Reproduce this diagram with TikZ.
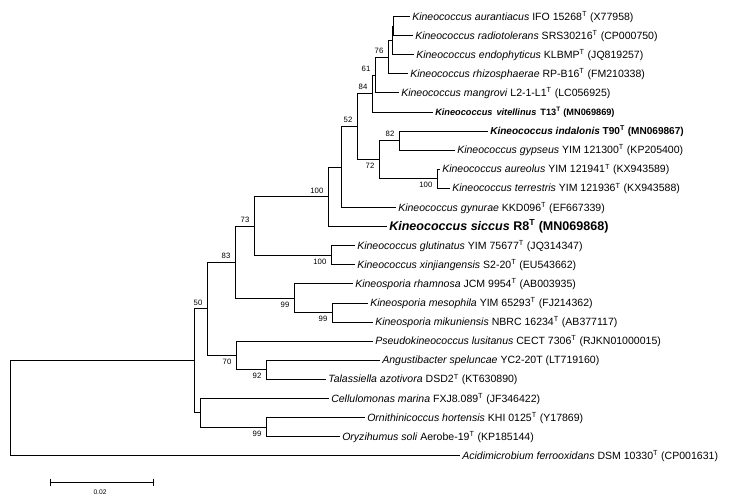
\documentclass[tikz,border=0pt]{standalone}
\usepackage{fontspec}
\setmainfont{Liberation Sans}
\newcommand{\typeT}{\textsuperscript{T}}

\begin{document}
\begin{tikzpicture}[x=0.75pt,y=-0.75pt,
 br/.style={line width=0.75pt},
 taxon/.style={anchor=west,inner sep=1.5pt,text height=7pt,text depth=1.7pt,font=\fontsize{7.9}{9}\selectfont},
 boot/.style={inner sep=2.5pt,font=\fontsize{5.8}{7}\selectfont},
 bootup/.style={boot,anchor=south east,xshift=-0.8pt},
 bootdn/.style={boot,anchor=north east,xshift=-0.8pt}]
 \useasboundingbox (0,0) rectangle (730,496);

 \node[taxon] (aur) at (410,16.5) {\textit{Kineococcus aurantiacus} IFO 15268\typeT{} (X77958)};
 \node[taxon] (rad) at (413,35.6) {\textit{Kineococcus radiotolerans} SRS30216\typeT{} (CP000750)};
 \node[taxon] (endo) at (414,54.7) {\textit{Kineococcus endophyticus} KLBMP\typeT{} (JQ819257)};
 \node[taxon] (rhizo) at (408,73.8) {\textit{Kineococcus rhizosphaerae} RP-B16\typeT{} (FM210338)};
 \node[taxon] (mang) at (399,92.9) {\textit{Kineococcus mangrovi} L2-1-L1\typeT{} (LC056925)};
 \node[taxon,font=\fontsize{6.9}{8}\selectfont\bfseries] (vit) at (433,112.0) {\textit{Kineococcus}\hspace{3pt}\textit{vitellinus}\hspace{3pt}T13\typeT{} (MN069869)};
 \node[taxon,font=\fontsize{7.55}{9}\selectfont\bfseries] (ind) at (488,131.1) {\textit{Kineococcus indalonis} T90\typeT{} (MN069867)};
 \node[taxon] (gyp) at (455,150.2) {\textit{Kineococcus gypseus} YIM 121300\typeT{} (KP205400)};
 \node[taxon] (aureo) at (440,169.3) {\textit{Kineococcus aureolus} YIM 121941\typeT{} (KX943589)};
 \node[taxon] (terr) at (450,188.4) {\textit{Kineococcus terrestris} YIM 121936\typeT{} (KX943588)};
 \node[taxon] (gyn) at (396,207.5) {\textit{Kineococcus gynurae} KKD096\typeT{} (EF667339)};
 \node[taxon,font=\fontsize{9.4}{11}\selectfont\bfseries,text height=8.3pt,text depth=2pt] (sic) at (387,226.6) {\textit{Kineococcus siccus} R8\typeT{} (MN069868)};
 \node[taxon] (glut) at (355,245.7) {\textit{Kineococcus glutinatus} YIM 75677\typeT{} (JQ314347)};
 \node[taxon] (xin) at (355,264.8) {\textit{Kineococcus xinjiangensis} S2-20\typeT{} (EU543662)};
 \node[taxon] (rham) at (353,283.9) {\textit{Kineosporia rhamnosa} JCM 9954\typeT{} (AB003935)};
 \node[taxon] (meso) at (368,303.0) {\textit{Kineosporia mesophila} YIM 65293\typeT{} (FJ214362)};
 \node[taxon] (miku) at (373,322.1) {\textit{Kineosporia mikuniensis} NBRC 16234\typeT{} (AB377117)};
 \node[taxon] (pseu) at (373,341.2) {\textit{Pseudokineococcus lusitanus} CECT 7306\typeT{} (RJKN01000015)};
 \node[taxon] (angu) at (380,360.3) {\textit{Angustibacter speluncae} YC2-20T (LT719160)};
 \node[taxon] (tala) at (326,379.4) {\textit{Talassiella azotivora} DSD2\typeT{} (KT630890)};
 \node[taxon] (cell) at (329,398.5) {\textit{Cellulomonas marina} FXJ8.089\typeT{} (JF346422)};
 \node[taxon] (orni) at (365,417.6) {\textit{Ornithinicoccus hortensis} KHI 0125\typeT{} (Y17869)};
 \node[taxon] (oryz) at (340,436.7) {\textit{Oryzihumus soli} Aerobe-19\typeT{} (KP185144)};
 \node[taxon] (acid) at (460,455.8) {\textit{Acidimicrobium ferrooxidans} DSM 10330\typeT{} (CP001631)};

 \coordinate (nar) at (393.5,26.05);
 \coordinate (nen) at (392,40.4);
 \coordinate (n76) at (388,57.1);
 \coordinate (n61) at (375,75);
 \coordinate (n84) at (372,93.5);
 \coordinate (n82) at (399,140.65);
 \coordinate (nte) at (437,178.85);
 \coordinate (n72) at (379,159.75);
 \coordinate (n52) at (357,126.6);
 \coordinate (ngy) at (341,167.05);
 \coordinate (nsi) at (328,196.8);
 \coordinate (ngl) at (331,255.25);
 \coordinate (n73) at (254,226);
 \coordinate (nme) at (332,312.55);
 \coordinate (nrh) at (294,298.2);
 \coordinate (n83) at (235,262.1);
 \coordinate (nta) at (266,369.85);
 \coordinate (n70) at (236,355.5);
 \coordinate (n50) at (207,308.8);
 \coordinate (nor) at (266,427.15);
 \coordinate (nce) at (200,412.8);
 \coordinate (nin) at (194,360.8);
 \coordinate (root) at (10,408.3);

 \draw[br] (nar) |- (aur.west);
 \draw[br] (nar) |- (rad.west);
 \draw[br] (nen) |- (nar);
 \draw[br] (nen) |- (endo.west);
 \draw[br] (n76) |- (nen);
 \draw[br] (n76) |- (rhizo.west);
 \draw[br] (n61) |- (n76);
 \draw[br] (n61) |- (mang.west);
 \draw[br] (n84) |- (n61);
 \draw[br] (n84) |- (vit.west);
 \draw[br] (n82) |- (ind.west);
 \draw[br] (n82) |- (gyp.west);
 \draw[br] (nte) |- (aureo.west);
 \draw[br] (nte) |- (terr.west);
 \draw[br] (n72) |- (n82);
 \draw[br] (n72) |- (nte);
 \draw[br] (n52) |- (n84);
 \draw[br] (n52) |- (n72);
 \draw[br] (ngy) |- (n52);
 \draw[br] (ngy) |- (gyn.west);
 \draw[br] (nsi) |- (ngy);
 \draw[br] (nsi) |- (sic.west);
 \draw[br] (ngl) |- (glut.west);
 \draw[br] (ngl) |- (xin.west);
 \draw[br] (n73) |- (nsi);
 \draw[br] (n73) |- (ngl);
 \draw[br] (nme) |- (meso.west);
 \draw[br] (nme) |- (miku.west);
 \draw[br] (nrh) |- (rham.west);
 \draw[br] (nrh) |- (nme);
 \draw[br] (n83) |- (n73);
 \draw[br] (n83) |- (nrh);
 \draw[br] (nta) |- (angu.west);
 \draw[br] (nta) |- (tala.west);
 \draw[br] (n70) |- (pseu.west);
 \draw[br] (n70) |- (nta);
 \draw[br] (n50) |- (n83);
 \draw[br] (n50) |- (n70);
 \draw[br] (nor) |- (orni.west);
 \draw[br] (nor) |- (oryz.west);
 \draw[br] (nce) |- (cell.west);
 \draw[br] (nce) |- (nor);
 \draw[br] (nin) |- (n50);
 \draw[br] (nin) |- (nce);
 \draw[br] (root) |- (nin);
 \draw[br] (root) |- (acid.west);

 \node[bootup] (b76) at (n76) {76};
 \node[bootup] (b61) at (n61) {61};
 \node[bootup] (b84) at (n84) {84};
 \node[bootup] (b52) at (n52) {52};
 \node[bootup] (b82) at (n82) {82};
 \node[bootdn] (b72) at (n72) {72};
 \node[bootdn] (bte) at (nte) {100};
 \node[bootup] (bsi) at (nsi) {100};
 \node[bootup] (b73) at (n73) {73};
 \node[bootdn] (bgl) at (ngl) {100};
 \node[bootup] (b83) at (n83) {83};
 \node[bootdn] (brh) at (nrh) {99};
 \node[bootdn] (bme) at (nme) {99};
 \node[bootup] (b50) at (n50) {50};
 \node[bootdn] (b70) at (n70) {70};
 \node[bootdn] (bta) at (nta) {92};
 \node[bootdn] (bor) at (nor) {99};

 \coordinate (sbl) at (50,482);
 \coordinate (sbr) at (153,482);
 \draw[br] (sbl) -- (sbr);
 \draw[br] (50,478.5) -- (50,485.5);
 \draw[br] (153,478.5) -- (153,485.5);
 \node[font=\fontsize{5}{6}\selectfont] (sblab) at (100,492) {0.02};
\end{tikzpicture}
\end{document}
